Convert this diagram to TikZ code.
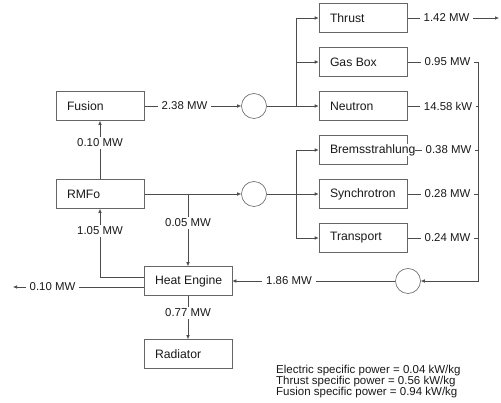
\documentclass[tikz,border=0pt]{standalone}
\usepackage{fontspec}
\setmainfont{Liberation Sans}
\usetikzlibrary{arrows.meta,backgrounds}
\begin{document}
\begin{tikzpicture}[x=1pt,y=-1pt,
  box/.style={draw=black!60, line width=0.6pt, minimum width=88pt, minimum height=29pt, inner sep=0pt,
    font=\fontsize{12.2}{14}\selectfont, text=black!90},
  circ/.style={circle, draw=black!60, line width=0.6pt, minimum size=25pt, inner sep=0pt},
  lbl/.style={inner xsep=3.5pt, inner ysep=2pt, font=\fontsize{11.4}{13}\selectfont, text=black!90},
  conn/.style={draw=black!70, line width=0.6pt},
  arr/.style={conn, -{Latex[length=4pt,width=3.5pt]}}]
\useasboundingbox (0,0) rectangle (501,403);
\newcommand{\btext}[1]{\makebox[66pt][l]{#1}}
% boxes
\node[box] (fusion) at (100,106) {\btext{Fusion}};
\node[box] (rmfo) at (100,194) {\btext{RMFo}};
\node[box] (heat) at (188,281) {\btext{Heat Engine}};
\node[box] (rad) at (188,354) {\btext{Radiator}};
\node[box] (thrust) at (363,18) {\btext{Thrust}};
\node[box] (gasbox) at (363,62) {\btext{Gas Box}};
\node[box] (neutron) at (363,106) {\btext{Neutron}};
\node[box] (brems) at (363,150) {\btext{{\fboxsep=0pt\colorbox{white}{Bremsstrahlung}}}};
\node[box] (synch) at (363,194) {\btext{Synchrotron}};
\node[box] (transport) at (363,238) {\btext{Transport}};
% circles
\node[circ] (c1) at (254,106) {};
\node[circ] (c2) at (254,194) {};
\node[circ] (c3) at (408,281) {};
% labels
\node[lbl] (l010a) at (100,143) {0.10 MW};
\node[lbl] (l238) at (184.5,106) {2.38 MW};
\node[lbl] (l005) at (188,223) {0.05 MW};
\node[lbl] (l105) at (100,231) {1.05 MW};
\node[lbl] (l010b) at (52.5,287) {0.10 MW};
\node[lbl] (l077) at (188,313) {0.77 MW};
\node[lbl] (l186) at (289,281) {1.86 MW};
\node[lbl] (l142) at (446.5,18) {1.42 MW};
\node[lbl] (l095) at (447.5,62) {0.95 MW};
\node[lbl] (l1458) at (448,106) {14.58 kW};
\node[lbl] (l038) at (448.5,150) {0.38 MW};
\node[lbl] (l028) at (447.5,194) {0.28 MW};
\node[lbl] (l024) at (447.5,238) {0.24 MW};
% coordinates
\coordinate (j1) at (296,106);
\coordinate (j2) at (296,194);
\coordinate (j3) at (188,194);
\coordinate (r1) at (478,62);
\coordinate (r2) at (478,281);
\coordinate (tend) at (499,18);
\coordinate (k1) at (100,277);
\coordinate (lend) at (13,287);
% text block
\node[anchor=west, align=left, inner sep=0pt, font=\fontsize{11.5}{11.3}\selectfont, text=black!90] (info) at (276,381.5)
  {Electric specific power = 0.04 kW/kg\\Thrust specific power = 0.56 kW/kg\\Fusion specific power = 0.94 kW/kg};
\begin{scope}[on background layer]
\draw[arr] (rmfo.north) -- (l010a) -- (fusion.south);
\draw[arr] (fusion.east) -- (l238) -- (c1.west);
\draw[arr] (c1.east) -- (neutron.west);
\draw[arr] (j1) |- (thrust.west);
\draw[arr] (j1) |- (gasbox.west);
\draw[arr] (rmfo.east) -- (c2.west);
\draw[arr] (c2.east) -- (synch.west);
\draw[arr] (j2) |- (brems.west);
\draw[arr] (j2) |- (transport.west);
\draw[arr] (j3) -- (l005) -- (heat.north);
\draw[arr] (thrust.east) -- (l142) -- (tend);
\draw[arr] (gasbox.east) -- (l095) -- (r1) -- (r2) -- (c3.east);
\draw[conn] (neutron.east) -- (l1458) -- (l1458 -| r1);
\draw[conn] (brems.east) -- (l038) -- (l038 -| r1);
\draw[conn] (synch.east) -- (l028) -- (l028 -| r1);
\draw[conn] (transport.east) -- (l024) -- (l024 -| r1);
\draw[arr] (c3.west) -- (l186) -- (heat.east);
\draw[arr] ([yshift=4pt]heat.west) -- (k1) -- (l105) -- (rmfo.south);
\draw[arr] ([yshift=-6pt]heat.west) -- (l010b) -- (lend);
\draw[arr] (heat.south) -- (l077) -- (rad.north);
\end{scope}
\end{tikzpicture}
\end{document}
